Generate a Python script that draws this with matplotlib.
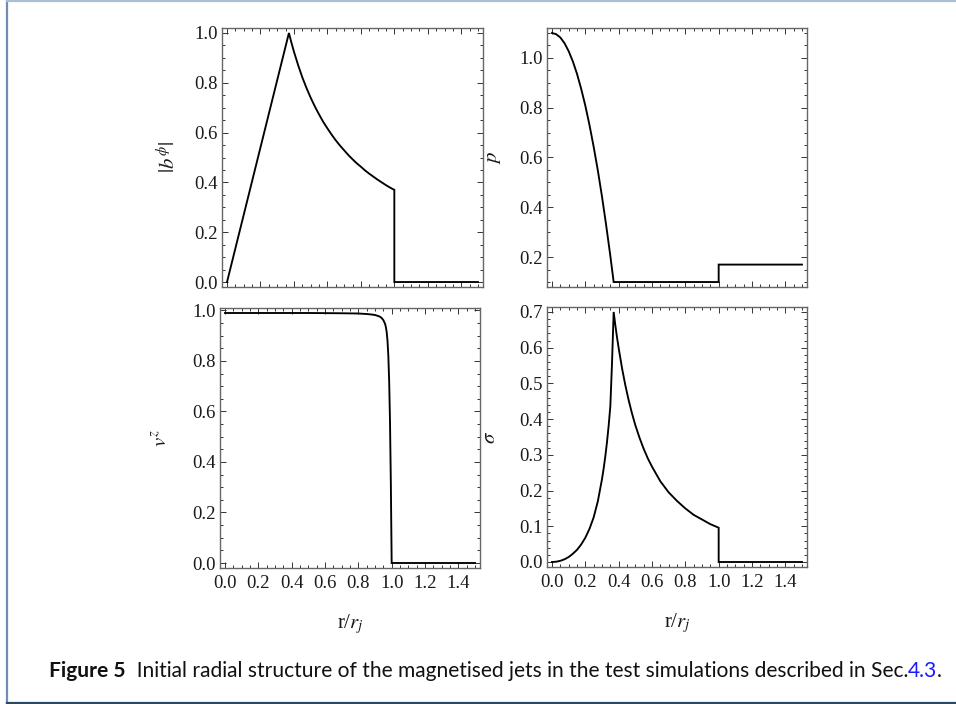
import matplotlib
matplotlib.use("Agg")
import matplotlib.pyplot as plt
from matplotlib.ticker import MultipleLocator, FormatStrFormatter
from matplotlib.lines import Line2D

plt.rcParams['font.family'] = ['Liberation Serif', 'DejaVu Serif']
plt.rcParams['mathtext.fontset'] = 'stix'

# ---- data ----
r_b = [0.0, 0.37, 0.385, 0.40, 0.425, 0.45, 0.475, 0.50, 0.525, 0.55, 0.575, 0.60, 0.625, 0.65, 0.675, 0.70,
       0.725, 0.75, 0.775, 0.80, 0.825, 0.85, 0.875, 0.90, 0.925, 0.95, 0.975, 1.0, 1.0, 1.5]
b_phi = [0.0, 1.0, 0.961, 0.925, 0.871, 0.822, 0.779, 0.740, 0.705, 0.673, 0.643, 0.617, 0.592, 0.569, 0.548,
         0.529, 0.510, 0.493, 0.477, 0.463, 0.448, 0.435, 0.423, 0.411, 0.400, 0.389, 0.379, 0.370, 0.0, 0.0]

r_p = [0.0, 0.025, 0.05, 0.075, 0.10, 0.125, 0.15, 0.175, 0.20, 0.225, 0.25, 0.275, 0.30, 0.325, 0.35, 0.37,
       1.0, 1.0, 1.5]
p_val = [1.100, 1.095, 1.082, 1.059, 1.027, 0.986, 0.936, 0.876, 0.808, 0.730, 0.643, 0.548, 0.443, 0.328,
         0.205, 0.100, 0.100, 0.170, 0.170]

r_v = [0.0, 0.50, 0.70, 0.80, 0.85, 0.88, 0.90, 0.92, 0.93, 0.94, 0.95, 0.96, 0.965, 0.97, 0.975, 0.98, 0.985,
       0.99, 0.995, 1.0, 1.5]
v_z = [0.990, 0.990, 0.989, 0.988, 0.986, 0.984, 0.982, 0.978, 0.975, 0.970, 0.962, 0.948, 0.935, 0.915,
       0.880, 0.820, 0.720, 0.560, 0.320, 0.0, 0.0]

r_s = [0.0, 0.025, 0.05, 0.075, 0.10, 0.125, 0.15, 0.175, 0.20, 0.225, 0.25, 0.275, 0.30, 0.31, 0.32, 0.33,
       0.34, 0.35, 0.36, 0.37, 0.38, 0.39, 0.40, 0.42, 0.44, 0.46, 0.48, 0.50, 0.525, 0.55, 0.575, 0.60, 0.65,
       0.70, 0.75, 0.80, 0.85, 0.90, 0.95, 1.0, 1.0, 1.5]
sigma = [0.0, 0.0008, 0.0033, 0.0076, 0.014, 0.023, 0.034, 0.049, 0.068, 0.093, 0.125, 0.170, 0.232, 0.262,
         0.296, 0.336, 0.382, 0.436, 0.556, 0.700, 0.663, 0.629, 0.599, 0.543, 0.495, 0.453, 0.416, 0.383,
         0.348, 0.317, 0.290, 0.267, 0.226, 0.195, 0.171, 0.150, 0.132, 0.119, 0.106, 0.096, 0.0, 0.0]

x_ticks = [0.0, 0.2, 0.4, 0.6, 0.8, 1.0, 1.2, 1.4]
ylabels = [r"$|b^{\phi}|$", r"$p$", r"$v^{z}$", r"$\sigma$"]
xlabel = r"r/$r_j$"

W, H = 956, 704
fig = plt.figure(figsize=(W / 100, H / 100), dpi=100)

def ax_at(x0, y0, x1, y1):
    return fig.add_axes([x0 / W, 1 - y1 / H, (x1 - x0) / W, (y1 - y0) / H])

axes = [ax_at(222, 28, 483, 287), ax_at(547, 28, 807, 287),
        ax_at(220, 308, 480, 568), ax_at(547, 307, 807, 567)]
xs = [r_b, r_p, r_v, r_s]
ys = [b_phi, p_val, v_z, sigma]
ylims = [(-0.02, 1.02), (0.08, 1.12), (-0.0198, 1.0098), (-0.014, 0.714)]
ymaj = [0.2, 0.2, 0.2, 0.1]
ymin = [0.05, 0.05, 0.05, 0.02]
lab_x = [-0.161, -0.17, -0.186, -0.18]

for i, ax in enumerate(axes):
    ax.plot(xs[i], ys[i], color='black', lw=1.35, solid_joinstyle='miter')
    ax.set_xlim(-0.03, 1.53)
    ax.set_ylim(*ylims[i])
    ax.set_xticks(x_ticks)
    ax.xaxis.set_minor_locator(MultipleLocator(0.05))
    ax.yaxis.set_major_locator(MultipleLocator(ymaj[i]))
    ax.yaxis.set_minor_locator(MultipleLocator(ymin[i]))
    ax.tick_params(which='both', direction='in', top=True, right=True, colors='#333333',
                   labelcolor='#1a1a1a', labelsize=13.5, width=0.7, pad=3)
    ax.tick_params(axis='x', which='major', pad=5)
    ax.tick_params(which='major', length=4)
    ax.tick_params(which='minor', length=2)
    for s in ax.spines.values():
        s.set_color('#666666')
        s.set_linewidth(1.0)
    ax.yaxis.set_major_formatter(FormatStrFormatter('%.1f'))
    ax.xaxis.set_major_formatter(FormatStrFormatter('%.1f'))
    for lbl in ax.get_xticklabels() + ax.get_yticklabels():
        lbl.set_family(['Liberation Serif', 'DejaVu Serif'])
    ax.set_ylabel(ylabels[i], fontsize=15, color='#1a1a1a')
    ax.yaxis.set_label_coords(lab_x[i], 0.5)
    if i < 2:
        ax.tick_params(labelbottom=False)
    else:
        ax.set_xlabel(xlabel, fontsize=15, color='#1a1a1a')
        ax.xaxis.set_label_coords(0.5, -0.168)

# frame around the figure
fig.add_artist(Line2D([6.5 / W, 6.5 / W], [0, 1], transform=fig.transFigure, color='#6f8fb0', lw=1.6))
fig.add_artist(Line2D([6.5 / W, 1], [1 - 1 / H, 1 - 1 / H], transform=fig.transFigure, color='#a9bfd2', lw=1.6))
fig.add_artist(Line2D([6.5 / W, 1], [1 - 702.5 / H, 1 - 702.5 / H], transform=fig.transFigure, color='#2c4867', lw=1.6))

# caption
cap_font = 'Lato'
cap_parts = [("Figure 5", 'bold', '#111111'),
             ("  Initial radial structure of the magnetised jets in the test simulations described in Sec.", 'normal', '#111111'),
             ("4.3", 'normal', '#1a1aff'),
             (".", 'normal', '#111111')]
fig.canvas.draw()
renderer = fig.canvas.get_renderer()
target = 945 - 49

def total_width(fs):
    w = 0
    for txt, wt, c in cap_parts:
        t = fig.text(0, 0, txt, fontsize=fs, fontweight=wt, family=cap_font)
        w += t.get_window_extent(renderer).width
        t.remove()
    return w

fs = 13.0
fs = fs * target / total_width(fs)
x = 49
for txt, wt, c in cap_parts:
    t = fig.text(x / W, 1 - 671 / H, txt, fontsize=fs, fontweight=wt, color=c, family=cap_font,
                 va='center', ha='left')
    x += t.get_window_extent(renderer).width

fig.savefig('out.png', dpi=100)
